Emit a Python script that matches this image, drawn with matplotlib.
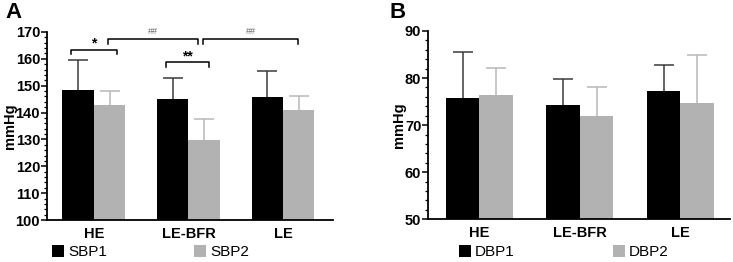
import matplotlib
matplotlib.use("Agg")
import matplotlib.pyplot as plt
import numpy as np
from matplotlib.patches import Patch
from matplotlib.ticker import MultipleLocator

plt.rcParams['font.family'] = ['Liberation Sans', 'DejaVu Sans']

categories = ["HE", "LE-BFR", "LE"]
sbp1 = [148.3, 144.9, 145.9]
sbp1_err = [11.4, 8.1, 9.6]
sbp2 = [143.0, 129.8, 141.0]
sbp2_err = [5.0, 7.8, 5.3]
dbp1 = [75.8, 74.3, 77.2]
dbp1_err = [9.8, 5.6, 5.5]
dbp2 = [76.3, 71.9, 74.6]
dbp2_err = [5.8, 6.2, 10.2]

BLACK = "#000000"
GRAY = "#b2b2b2"
ERR_DARK = "#3a3a3a"
ERR_LIGHT = "#b8b8b8"

fig = plt.figure(figsize=(7.33, 2.62), dpi=100)
axA = fig.add_axes([0.0641, 0.1603, 0.3902, 0.7176])
axB = fig.add_axes([0.5843, 0.1630, 0.4116, 0.7187])

x = np.arange(len(categories))
w = 0.333


def upper_err(ax, xs, vals, errs, color):
    _, caps, _ = ax.errorbar(xs, vals, yerr=[np.zeros(len(vals)), errs], fmt="none",
                             ecolor=color, elinewidth=1.1, capsize=7.5, capthick=1.1,
                             zorder=1)
    caps[0].set_visible(False)


def draw(ax, v1, e1, v2, e2, ylo, yhi, xlim, labels, labelx):
    ax.bar(x - w / 2, v1, width=w, color=BLACK, zorder=2)
    ax.bar(x + w / 2, v2, width=w, color=GRAY, zorder=2)
    upper_err(ax, x - w / 2, v1, e1, ERR_DARK)
    upper_err(ax, x + w / 2, v2, e2, ERR_LIGHT)
    ax.set_ylim(ylo, yhi)
    ax.set_xlim(*xlim)
    ax.set_xticks(x)
    ax.set_xticklabels(categories, fontweight="bold", fontsize=10.5)
    ax.tick_params(axis="x", length=0, pad=5)
    ax.yaxis.set_major_locator(MultipleLocator(10))
    ax.yaxis.set_minor_locator(MultipleLocator(2))
    ax.tick_params(axis="y", which="major", length=4, width=1.1, labelsize=10.5, pad=1)
    ax.tick_params(axis="y", which="minor", length=2.5, width=0.9)
    for t in ax.get_yticklabels():
        t.set_fontweight("bold")
    for s in ["top", "right"]:
        ax.spines[s].set_visible(False)
    for s in ["left", "bottom"]:
        ax.spines[s].set_linewidth(1.3)
    ax.set_ylabel("mmHg", fontweight="bold", fontsize=10.5)
    ax.yaxis.set_label_coords(labelx, 0.5)
    handles = [Patch(facecolor=BLACK, edgecolor="none", label=labels[0]),
               Patch(facecolor=GRAY, edgecolor="none", label=labels[1])]
    return handles


hA = draw(axA, sbp1, sbp1_err, sbp2, sbp2_err, 100, 170, (-0.497, 2.529),
          ["SBP1", "SBP2"], -0.106)
hB = draw(axB, dbp1, dbp1_err, dbp2, dbp2_err, 50, 90, (-0.507, 2.494),
          ["DBP1", "DBP2"], -0.074)

legkw = dict(ncol=2, frameon=False, fontsize=11, handlelength=0.8, handleheight=0.8,
             handletextpad=0.25, borderaxespad=0, borderpad=0, loc="upper left")
fig.legend(handles=hA, bbox_to_anchor=(52 / 733, 1 - 245 / 262), columnspacing=5.7, **legkw)
fig.legend(handles=hB, bbox_to_anchor=(459 / 733, 1 - 245 / 262), columnspacing=6.4, **legkw)


def bracket(ax, x0, x1, y, drop, text, tsize, tcolor, tweight, ty):
    ax.plot([x0, x0, x1, x1], [y - drop, y, y, y - drop], color="black", lw=1.1,
            clip_on=False, zorder=3)
    ax.text((x0 + x1) / 2, ty, text, ha="center", va="center", fontsize=tsize,
            color=tcolor, fontweight=tweight, clip_on=False)


bracket(axA, -0.247, 0.247, 163.3, 1.6, "*", 10, "black", "bold", 165.6)
bracket(axA, 0.148, 1.10, 167.4, 1.8, "##", 6.5, "#666666", "normal", 170.3)
bracket(axA, 1.153, 2.16, 167.4, 1.8, "##", 6.5, "#666666", "normal", 170.3)
bracket(axA, 0.762, 1.217, 158.8, 1.8, "**", 10, "black", "bold", 160.8)

fig.text(5 / 733, 1 - 12 / 262, "A", fontsize=16, fontweight="bold", va="center", ha="left")
fig.text(389 / 733, 1 - 12 / 262, "B", fontsize=16, fontweight="bold", va="center", ha="left")

fig.savefig("out.png", dpi=100)
